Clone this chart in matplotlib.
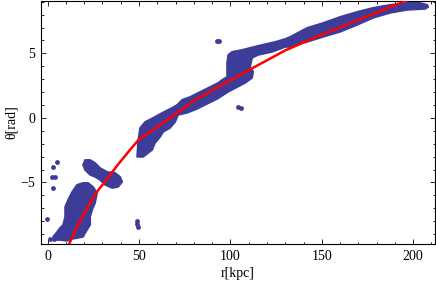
import numpy as np
import matplotlib
matplotlib.use('Agg')
import matplotlib.pyplot as plt
from matplotlib.ticker import MultipleLocator

# 색상 / 폰트
blue = '#3d3d99'
plt.rcParams['font.family'] = ['Liberation Serif', 'DejaVu Serif']

# 피팅 곡선
fit_r = [11.8, 15.6, 19.4, 23.8, 27.6, 31.5, 38.6, 45.1, 49.5, 61.6, 80.7,
         94.4, 110.8, 130.0, 149.1, 170.9, 197.2, 199.4]
fit_theta = [-9.77, -8.60, -7.56, -6.43, -5.62, -4.92, -3.60, -2.48, -1.74,
             -0.54, 1.40, 2.48, 3.76, 5.23, 6.40, 7.64, 9.15, 9.30]

# 주 나선팔 (r>50) 외곽선: 위쪽 가장자리 -> 아래쪽 가장자리
arm_r = [49.0, 49.5, 50.6, 53.4, 57.7, 62.7, 68.1, 70.9, 73.6, 78.0, 83.5,
         88.9, 93.3, 95.5, 98.2, 98.2, 98.8, 101.0, 106.4, 110.8, 117.4,
         124.5, 130.0, 132.7, 142.0, 150.8, 160.1, 169.4, 178.1, 187.4,
         196.7, 203.8, 207.7, 208.2,
         206.6, 196.7, 187.4, 178.1, 169.4, 160.1, 150.8, 142.0, 132.7,
         130.0, 122.9, 115.2, 111.9, 110.8, 112.5, 111.9, 108.1, 98.8,
         92.8, 87.3, 81.8, 76.3, 71.4, 69.8, 67.0, 63.2, 61.6, 58.8, 57.2,
         52.3]
arm_theta = [-3.02, -1.86, -0.78, -0.31, 0.00, 0.39, 0.78, 1.01, 1.40, 1.63,
             2.02, 2.40, 2.71, 2.95, 3.18, 4.26, 4.88, 5.12, 5.27, 5.43,
             5.66, 5.89, 6.12, 6.28, 6.98, 7.36, 7.83, 8.22, 8.53, 8.76,
             8.91, 8.91, 8.76, 8.60,
             8.45, 8.37, 8.14, 7.75, 7.21, 6.67, 6.28, 5.89, 5.50,
             5.50, 5.12, 4.88, 4.65, 3.95, 3.57, 3.10, 2.71, 2.02,
             1.47, 1.09, 0.70, 0.39, 0.23, -0.31, -0.78, -1.09, -1.47,
             -1.94, -2.48, -3.02]

# 안쪽 덩어리 (r 3~27)
inner_r = [22.2, 24.9, 27.1, 26.0, 24.4, 23.3, 23.3, 21.6, 19.4, 16.7, 13.4,
           10.7, 6.8, 4.1, 3.0, 5.2, 6.8, 8.5, 9.6, 9.6, 11.2, 13.4, 16.1,
           19.4]
inner_theta = [-5.04, -5.35, -5.81, -6.59, -7.13, -7.67, -8.29, -8.68, -9.22,
               -9.30, -9.38, -9.53, -9.46, -9.46, -9.22, -8.84, -8.53, -8.29,
               -7.67, -6.90, -6.36, -5.74, -5.19, -5.04]

# 연결 다리 모양 덩어리 (r 19~41)
bridge_r = [20.5, 23.3, 26.0, 28.7, 32.6, 36.9, 39.7, 40.8, 38.6, 35.3, 31.5,
            28.7, 26.0, 23.3, 20.5, 19.4]
bridge_theta = [-3.26, -3.26, -3.49, -3.88, -4.19, -4.26, -4.57, -4.96, -5.35,
                -5.43, -5.19, -4.81, -4.57, -4.42, -4.03, -3.64]

# 떨어진 점들
dot_r = [5.2, 3.0, 2.5, 4.1, 3.0, -0.3, 1.4, 3.6, 49.0, 49.0, 49.5,
         92.8, 93.8, 104.2, 105.9]
dot_theta = [-3.41, -3.80, -4.57, -4.57, -5.43, -7.83, -9.38, -9.38, -7.98,
             -8.22, -8.45, 5.97, 5.97, 0.85, 0.78]

fig = plt.figure(figsize=(4.36, 2.85), dpi=100)
ax = fig.add_axes([0.094, 0.144, 0.904, 0.853])

for rr, tt in [(arm_r, arm_theta), (inner_r, inner_theta), (bridge_r, bridge_theta)]:
    ax.fill(rr, tt, facecolor=blue, edgecolor=blue, lw=1.3, joinstyle='round', zorder=2)
ax.scatter(dot_r, dot_theta, s=12, color=blue, lw=0, zorder=2)

ax.plot(fit_r, fit_theta, color='red', lw=1.8, zorder=3)

ax.set_xlim(-3.6, 212)
ax.set_ylim(-9.77, 9.07)
ax.xaxis.set_major_locator(MultipleLocator(50))
ax.xaxis.set_minor_locator(MultipleLocator(10))
ax.yaxis.set_major_locator(MultipleLocator(5))
ax.yaxis.set_minor_locator(MultipleLocator(1))
ax.tick_params(which='both', direction='in', top=True, right=True, width=0.6,
               labelsize=10, pad=4)
ax.tick_params(which='major', length=3.5)
ax.tick_params(which='minor', length=1.8)
for s in ax.spines.values():
    s.set_linewidth(0.8)

ax.set_xlabel('r[kpc]', fontsize=10, labelpad=3)
ax.set_ylabel('θ[rad]', fontsize=10, labelpad=2)

fig.savefig('out.png', dpi=100)
